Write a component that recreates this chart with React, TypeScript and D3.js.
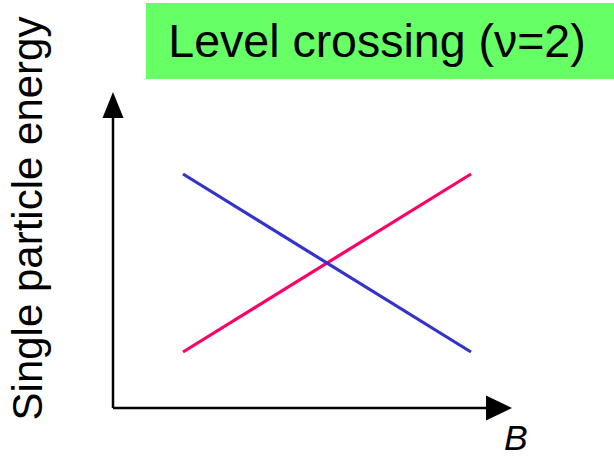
import React from "react";
import * as d3 from "d3";

const bField = [0, 1];
const blueLevel = [1, 0];
const redLevel = [0, 1];
const title = "Level crossing (ν=2)";
const yLabel = "Single particle energy";
const xLabel = "B";

export default function App() {
  const W = 614, H = 458;
  const x = d3.scaleLinear().domain([0, 1]).range([183, 471]);
  const y = d3.scaleLinear().domain([0, 1]).range([352, 174]);
  const line = d3
    .line<[number, number]>()
    .x((d) => x(d[0]))
    .y((d) => y(d[1]));
  const blue = bField.map((b, i) => [b, blueLevel[i]] as [number, number]);
  const red = bField.map((b, i) => [b, redLevel[i]] as [number, number]);
  const ox = 113, oy = 408;
  const font = "Liberation Sans, Arial, Helvetica, sans-serif";
  return (
    <svg
      width={W}
      height={H}
      style={{ position: "absolute", left: 0, top: 0, background: "#fff" }}
    >
      <rect x={146} y={3} width={468} height={76} fill="#66FF66" />
      <text x={377} y={57} textAnchor="middle" fontFamily={font} fontSize={46.5} fill="#000">
        {title}
      </text>
      <text
        transform={`translate(42,218.5) rotate(-90)`}
        textAnchor="middle"
        fontFamily={font}
        fontSize={42}
        fill="#000"
      >
        {yLabel}
      </text>
      <line x1={ox} y1={oy} x2={ox} y2={115} stroke="#000" strokeWidth={2.5} />
      <line x1={ox} y1={oy} x2={488} y2={oy} stroke="#000" strokeWidth={2.5} />
      <path d={`M${ox},92 L${ox + 10.5},118 L${ox - 10.5},118 Z`} fill="#000" />
      <path d={`M512,${oy} L486,${oy - 12.5} L486,${oy + 12.5} Z`} fill="#000" />
      <text x={504} y={450} fontFamily={font} fontStyle="italic" fontSize={35.5} fill="#000">
        {xLabel}
      </text>
      <path d={line(red) || ""} stroke="#FF0066" strokeWidth={3.2} fill="none" />
      <path d={line(blue) || ""} stroke="#3333CC" strokeWidth={3.2} fill="none" />
    </svg>
  );
}
